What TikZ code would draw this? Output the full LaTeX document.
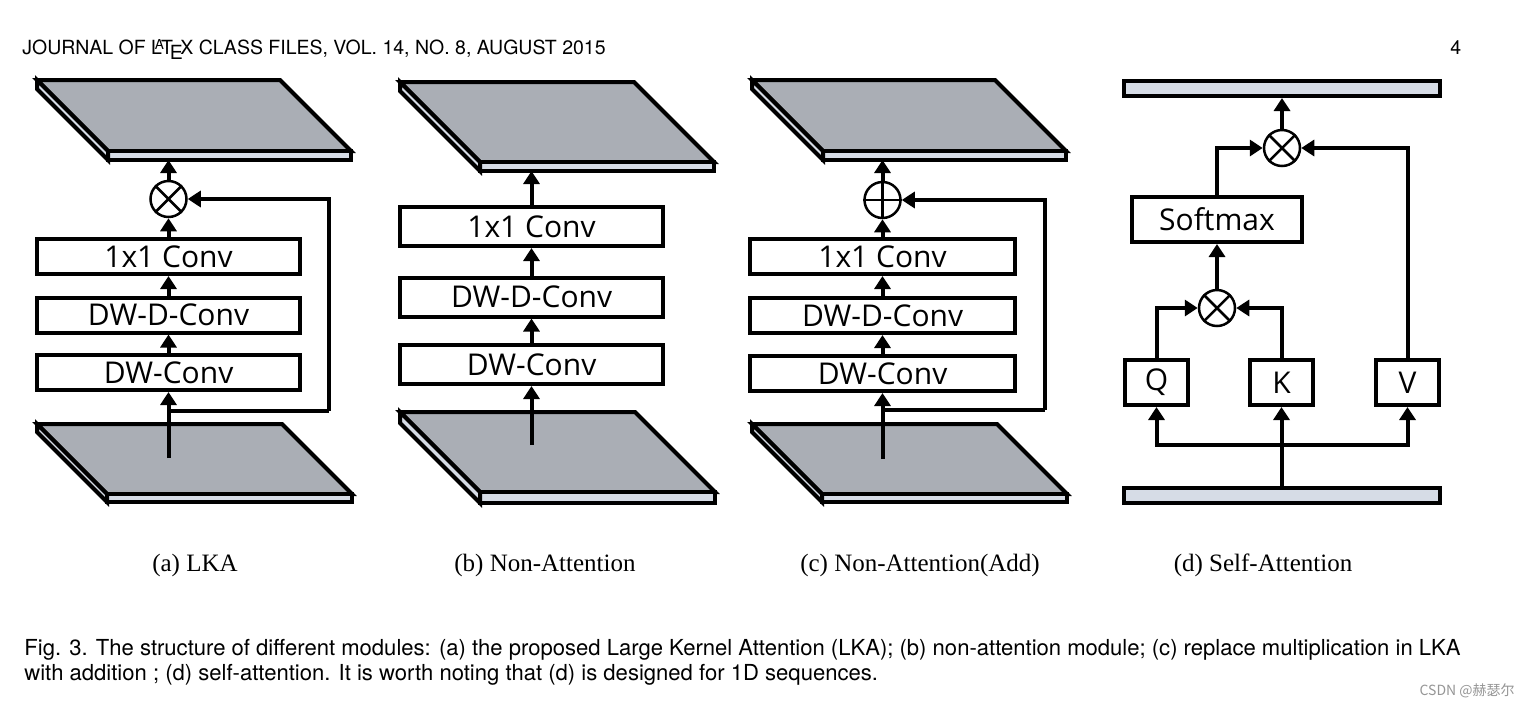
\documentclass[tikz,border=0pt]{standalone}
\usepackage{fontspec}
\setmainfont{Liberation Serif}
\setsansfont{TeX Gyre Heros}
\newfontfamily\boxfont{Open Sans}
\newfontfamily\cjkfont{Noto Sans CJK SC}
\usetikzlibrary{arrows.meta}
\definecolor{slabtop}{RGB}{170,174,181}
\definecolor{slabside}{RGB}{214,220,230}
\definecolor{wmgray}{RGB}{150,150,150}
\tikzset{
  blk/.style={draw, line width=2pt, fill=white, inner sep=0pt, minimum height=17.5pt,
    font=\boxfont\fontsize{15}{18}\selectfont},
  opnode/.style={circle, draw, line width=1.25pt, minimum size=18pt, inner sep=0pt, fill=white},
  crossline/.style={line width=1.25pt},
  conn/.style={line width=2pt},
  arr/.style={line width=2pt, -{Triangle[length=6.5pt,width=8pt]}},
  slabface/.style={draw, line width=2pt, fill=slabtop, line join=miter},
  slabedge/.style={draw, line width=2pt, fill=slabside, line join=miter},
  barbox/.style={draw, line width=2pt, fill=slabside, inner sep=0pt},
  subcap/.style={font=\rmfamily\fontsize{12.5}{15}\selectfont, anchor=base},
  captext/.style={font=\sffamily\fontsize{11.03}{13}\selectfont, anchor=base west, inner sep=0pt},
}
% x y w d t
\newcommand\myslab[5]{%
  \filldraw[slabface] (#1,#2) -- ++(#3,0) -- ++(#4,#4) -- ++(-#3,0) -- cycle;
  \filldraw[slabedge] (#1+#4,#2+#4) -- ++(#3,0) -- ++(0,#5) -- ++(-#3,0) -- cycle;
  \filldraw[slabedge] (#1,#2) -- (#1+#4,#2+#4) -- ++(0,#5) -- (#1,#2+#5) -- cycle;
}
\begin{document}
\begin{tikzpicture}[x=0.5pt,y=-0.5pt]
\useasboundingbox (0,0) rectangle (1530,707);
\fill[white] (0,0) rectangle (1530,707);

% header
\node[captext, font=\sffamily\fontsize{9.75}{11}\selectfont] (hdr) at (22,54) {JOURNAL OF \LaTeX\ CLASS FILES, VOL. 14, NO. 8, AUGUST 2015};
\node[captext, font=\sffamily\fontsize{9.75}{11}\selectfont] (pg) at (1450,54) {4};

% ---------- (a) LKA ----------
\myslab{37}{80}{243}{71}{9}
\coordinate (aTop) at (168.5,160);
\node[opnode] (aX) at (168.5,199) {};
\draw[crossline] (aX.north west) -- (aX.south east) (aX.north east) -- (aX.south west);
\node[blk, minimum width=131.5pt] (a1) at (168.5,256.5) {1x1 Conv};
\node[blk, minimum width=131.5pt] (a2) at (168.5,315) {DW-D-Conv};
\node[blk, minimum width=131.5pt] (a3) at (168.5,372.5) {DW-Conv};
\myslab{37}{424}{245}{70}{8}
\coordinate (aIn) at (168.5,458);
\coordinate (aSplit) at (168.5,411);
\coordinate (aRt) at (329,411);
\draw[arr] (aIn) -- (a3);
\draw[conn] (aSplit) -- (aRt);
\draw[arr] (aRt) |- (aX);
\draw[arr] (a3) -- (a2);
\draw[arr] (a2) -- (a1);
\draw[arr] (a1) -- (aX);
\draw[arr] (aX) -- (aTop);

% ---------- (b) Non-Attention ----------
\myslab{400}{82}{234}{80}{9}
\coordinate (bTop) at (531.5,171);
\node[blk, minimum width=131.5pt, minimum height=19.5pt] (b1) at (531.5,226.5) {1x1 Conv};
\node[blk, minimum width=131.5pt, minimum height=19.5pt] (b2) at (531.5,297) {DW-D-Conv};
\node[blk, minimum width=131.5pt, minimum height=19.5pt] (b3) at (531.5,364.5) {DW-Conv};
\myslab{400}{412}{235}{80}{11}
\coordinate (bIn) at (531.5,445);
\draw[arr] (bIn) -- (b3);
\draw[arr] (b3) -- (b2);
\draw[arr] (b2) -- (b1);
\draw[arr] (b1) -- (bTop);

% ---------- (c) Non-Attention(Add) ----------
\myslab{752}{80}{243}{71}{9}
\coordinate (cTop) at (882.5,160);
\node[opnode] (cP) at (882.5,200) {};
\draw[crossline] (cP.north) -- (cP.south) (cP.west) -- (cP.east);
\node[blk, minimum width=132.5pt] (c1) at (882.5,256.5) {1x1 Conv};
\node[blk, minimum width=132.5pt] (c2) at (882.5,315.5) {DW-D-Conv};
\node[blk, minimum width=132.5pt] (c3) at (882.5,373.5) {DW-Conv};
\myslab{752}{424}{245}{70}{8}
\coordinate (cIn) at (882.5,459);
\coordinate (cSplit) at (882.5,410);
\coordinate (cRt) at (1045,410);
\draw[arr] (cIn) -- (c3);
\draw[conn] (cSplit) -- (cRt);
\draw[arr] (cRt) |- (cP);
\draw[arr] (c3) -- (c2);
\draw[arr] (c2) -- (c1);
\draw[arr] (c1) -- (cP);
\draw[arr] (cP) -- (cTop);

% ---------- (d) Self-Attention ----------
\node[barbox, minimum width=158pt, minimum height=7.5pt] (dOut) at (1282,88.5) {};
\node[barbox, minimum width=158pt, minimum height=7.5pt] (dInp) at (1282,495.5) {};
\node[opnode] (dM2) at (1282,148) {};
\draw[crossline] (dM2.north west) -- (dM2.south east) (dM2.north east) -- (dM2.south west);
\node[blk, minimum width=85pt, minimum height=22.5pt] (dSm) at (1217,219.5) {Softmax};
\node[opnode] (dM1) at (1217,308) {};
\draw[crossline] (dM1.north west) -- (dM1.south east) (dM1.north east) -- (dM1.south west);
\node[blk, minimum width=31.5pt, minimum height=22.5pt] (dQ) at (1156.5,382.5) {Q};
\node[blk, minimum width=31.5pt, minimum height=22.5pt] (dK) at (1281.5,382.5) {K};
\node[blk, minimum width=31.5pt, minimum height=22.5pt] (dV) at (1407.5,382.5) {V};
\coordinate (dSrc) at (1281.5,488);
\coordinate (dJ) at (1281.5,445);
\draw[arr] (dSrc) -- (dK);
\draw[arr] (dJ) -| (dQ);
\draw[arr] (dJ) -| (dV);
\draw[arr] (dQ) |- (dM1);
\draw[arr] (dK) |- (dM1);
\draw[arr] (dM1) -- (dSm);
\draw[arr] (dSm) |- (dM2);
\draw[arr] (dV) |- (dM2);
\draw[arr] (dM2) -- (dOut);

% sub-captions
\node[subcap] (capa) at (195,571) {(a) LKA};
\node[subcap] (capb) at (545,571) {(b) Non-Attention};
\node[subcap] (capc) at (920,571) {(c) Non-Attention(Add)};
\node[subcap] (capd) at (1263,571) {(d) Self-Attention};

% caption
\node[captext] (cap1) at (24,655) {Fig. 3. The structure of different modules: (a) the proposed Large Kernel Attention (LKA); (b) non-attention module; (c) replace multiplication in LKA};
\node[captext] (cap2) at (24,680) {with addition ; (d) self-attention. It is worth noting that (d) is designed for 1D sequences.};

% watermark
\node[anchor=base east, inner sep=0pt, text=wmgray, font=\cjkfont\fontsize{7}{8}\selectfont] (wm) at (1515,695) {CSDN @赫瑟尔};
\end{tikzpicture}
\end{document}
